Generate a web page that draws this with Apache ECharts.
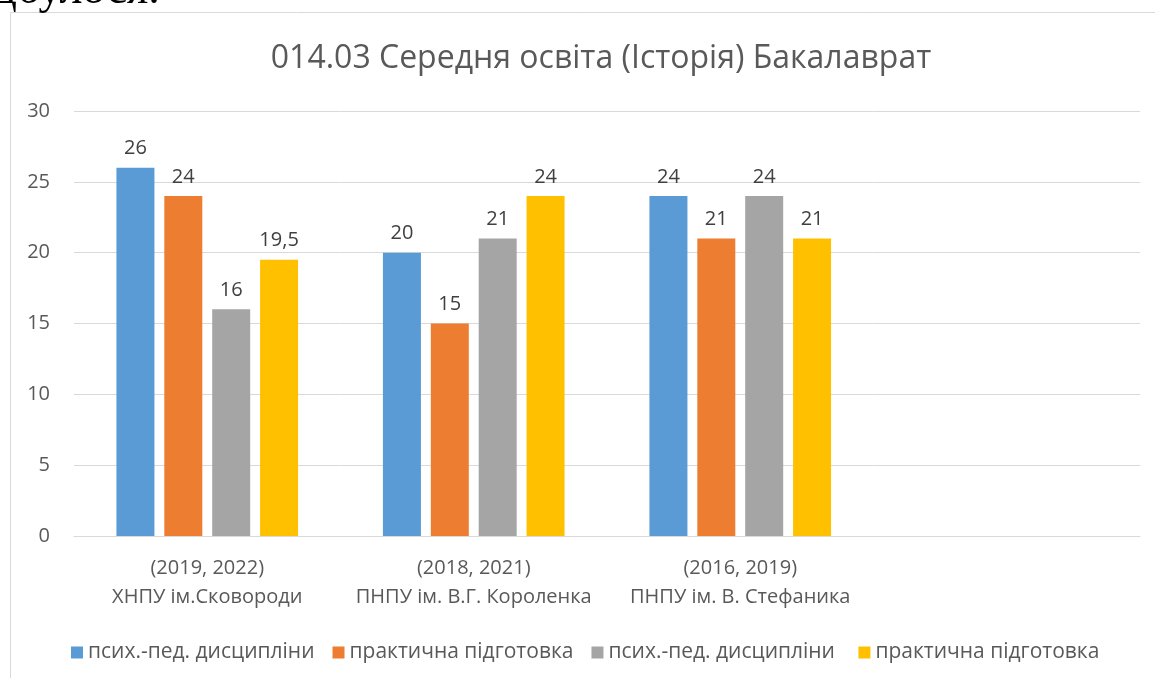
<!DOCTYPE html>
<html>
<head>
<meta charset="utf-8">
<script src="https://cdn.jsdelivr.net/npm/echarts@6/dist/echarts.min.js"></script>
<style>
  html, body { margin: 0; padding: 0; background: #fff; }
  #chart { width: 1155px; height: 678px; }
</style>
</head>
<body>
<div id="chart"></div>
<script>
const categories = [
    '(2019, 2022)\nХНПУ ім.Сковороди',
    '(2018, 2021)\nПНПУ ім. В.Г. Короленка',
    '(2016, 2019)\nПНПУ ім. В. Стефаника',
    ''
];
const seriesNames = ['псих.-пед. дисципліни', 'практична підготовка', 'псих.-пед. дисципліни ', 'практична підготовка '];
const psyPed1 = [26, 20, 24, null];
const practice1 = [24, 15, 21, null];
const psyPed2 = [16, 21, 24, null];
const practice2 = [19.5, 24, 21, null];
const colors = ['#5B9BD5', '#ED7D31', '#A5A5A5', '#FFC000'];

const font = 'Open Sans';
const myChart = echarts.init(document.getElementById('chart'));

const makeSeries = (name, data, color) => ({
    name: name,
    type: 'bar',
    data: data,
    barWidth: 38,
    barGap: '26%',
    itemStyle: { color: color },
    label: {
        show: true,
        position: 'top',
        distance: 9,
        color: '#404040',
        fontFamily: font,
        fontSize: 20,
        formatter: p => String(p.value).replace('.', ',')
    }
});

const option = {
    animation: false,
    textStyle: { fontFamily: font },
    title: {
        text: '014.03 Середня освіта (Історія) Бакалаврат',
        left: 596,
        textAlign: 'center',
        top: 38,
        textStyle: { fontFamily: font, fontSize: 32, fontWeight: 'normal', color: '#595959' }
    },
    legend: {
        top: 637,
        left: 66,
        icon: 'rect',
        itemWidth: 12,
        itemHeight: 12,
        itemGap: 18,
        textStyle: { fontFamily: font, fontSize: 21, color: '#595959' },
        data: seriesNames
    },
    grid: { left: 74, right: 15, top: 111, bottom: 142 },
    xAxis: {
        type: 'category',
        data: categories,
        axisLine: { lineStyle: { color: '#D9D9D9', width: 1 } },
        axisTick: { show: false },
        axisLabel: { color: '#595959', fontFamily: font, fontSize: 20, lineHeight: 29, margin: 18, interval: 0 }
    },
    yAxis: {
        type: 'value',
        min: 0,
        max: 30,
        interval: 5,
        axisLine: { show: false },
        axisTick: { show: false },
        axisLabel: { color: '#595959', fontFamily: font, fontSize: 20, margin: 24 },
        splitLine: { lineStyle: { color: '#D9D9D9', width: 1 } }
    },
    graphic: [
        {
            type: 'polyline',
            shape: { points: [[10.5, 678], [10.5, 12.5], [1155, 12.5]] },
            style: { stroke: '#D9D9D9', fill: null, lineWidth: 1 }
        },
        {
            type: 'text',
            x: -41,
            y: -32,
            style: { text: 'відбулося.', font: '46px "Liberation Serif"', fill: '#000' }
        }
    ],
    series: [
        makeSeries(seriesNames[0], psyPed1, colors[0]),
        makeSeries(seriesNames[1], practice1, colors[1]),
        makeSeries(seriesNames[2], psyPed2, colors[2]),
        makeSeries(seriesNames[3], practice2, colors[3])
    ]
};

myChart.setOption(option);
</script>
</body>
</html>
